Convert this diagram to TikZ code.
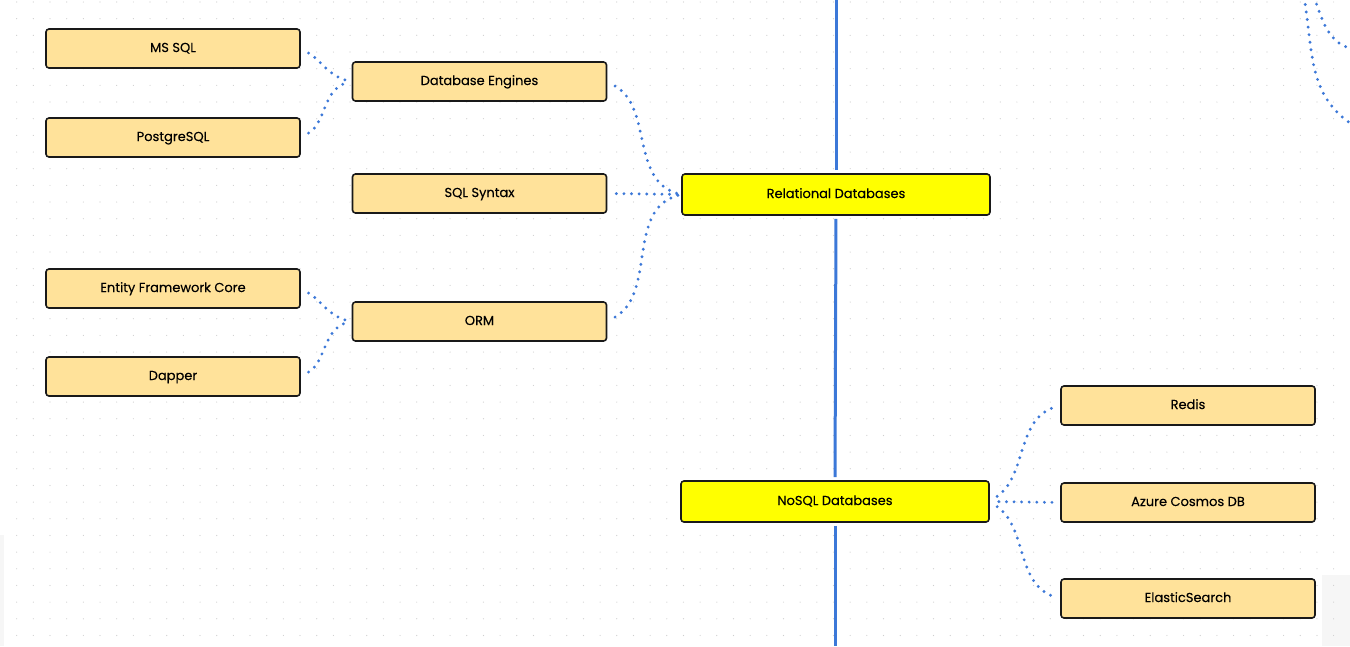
\documentclass[tikz,border=0pt]{standalone}
\usepackage{fontspec}
\setmainfont{Poppins}[FakeBold=0.25]
\definecolor{leaffill}{HTML}{FFE29A}
\definecolor{topicfill}{HTML}{FFFF00}
\definecolor{linkblue}{HTML}{3C78D8}
\definecolor{griddot}{HTML}{CFCFCF}
\definecolor{patchgray}{HTML}{F6F6F6}
\tikzset{
	leafbox/.style={draw=black!90,line width=1.6pt,rounded corners=3pt,fill=leaffill,minimum width=254pt,minimum height=39pt,inner sep=0pt,text height=10pt,text depth=3pt,font=\fontsize{13}{16}\selectfont},
	topicbox/.style={leafbox,fill=topicfill,minimum width=308pt,minimum height=41pt},
	dotlink/.style={linkblue,line width=3.2pt,line cap=round,dash pattern=on 0pt off 7.6pt,shorten <=9pt,shorten >=3pt},
	spine/.style={linkblue,line width=3pt,shorten <=3pt,shorten >=3pt}
}

\begin{document}
\begin{tikzpicture}[x=1pt,y=1pt]
	\useasboundingbox (0,0) rectangle (1350,-646);
	\fill[white] (0,0) rectangle (1350,-646);
	\fill[patchgray] (1322,-575) rectangle (1350,-646);
	\fill[patchgray] (0,-535) rectangle (4,-646);
	% background dots
	\foreach \i in {1,...,80}
		\foreach \j in {0,...,38}
			\fill[griddot] ({\i*16.67},{-2-\j*16.67}) circle (0.6pt);

	\node[leafbox] (mssql) at (173,-48.5) {MS SQL};
	\node[leafbox] (postgres) at (173,-137.5) {PostgreSQL};
	\node[leafbox] (engines) at (479.5,-81.5) {Database Engines};
	\node[leafbox] (syntax) at (479.5,-193.5) {SQL Syntax};
	\node[leafbox] (efcore) at (173,-288.5) {Entity Framework Core};
	\node[leafbox] (dapper) at (173,-376.5) {Dapper};
	\node[leafbox] (orm) at (479.5,-321.5) {ORM};
	\node[topicbox] (relational) at (836,-194.5) {Relational Databases};
	\node[topicbox] (nosql) at (835,-501.5) {NoSQL Databases};
	\node[leafbox] (redis) at (1188,-405.5) {Redis};
	\node[leafbox] (cosmos) at (1188,-502.5) {Azure Cosmos DB};
	\node[leafbox] (elastic) at (1188,-598.5) {ElasticSearch};

	\coordinate (spinetop) at (836,3);
	\coordinate (spinebottom) at (835,-649);
	\draw[spine] (spinetop) -- (relational.north);
	\draw[spine] (relational.south) -- (nosql.north);
	\draw[spine] (nosql.south) -- (spinebottom);

	\draw[dotlink] (mssql.east) to[out=-30,in=168] (engines.west);
	\draw[dotlink] (postgres.east) to[out=30,in=192] (engines.west);
	\draw[dotlink] (efcore.east) to[out=-30,in=168] (orm.west);
	\draw[dotlink] (dapper.east) to[out=30,in=192] (orm.west);
	\draw[dotlink] (engines.east) to[out=-30,in=165] (relational.west);
	\draw[dotlink] (syntax.east) -- (relational.west);
	\draw[dotlink] (orm.east) to[out=30,in=195] (relational.west);
	\draw[dotlink] (nosql.east) to[out=35,in=195] (redis.west);
	\draw[dotlink] (nosql.east) -- (cosmos.west);
	\draw[dotlink] (nosql.east) to[out=-35,in=165] (elastic.west);

	% top right corner, links running off the page
	\coordinate (offa) at (1304,3);
	\coordinate (offb) at (1350,-123);
	\coordinate (offc) at (1314,3);
	\coordinate (offd) at (1352,-49);
	\draw[dotlink,shorten <=0pt,shorten >=0pt] (offa) to[out=-80,in=145] (offb);
	\draw[dotlink,shorten <=0pt,shorten >=0pt] (offc) to[out=-70,in=165] (offd);
\end{tikzpicture}
\end{document}
